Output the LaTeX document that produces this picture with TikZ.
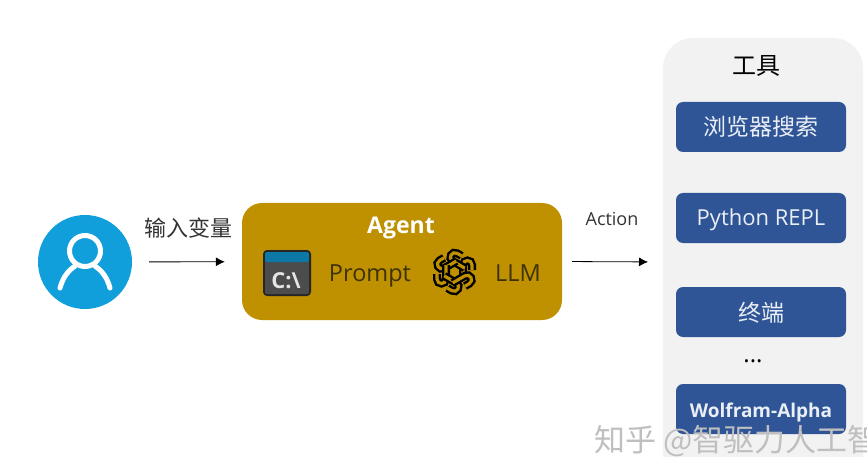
\documentclass[tikz,border=0pt]{standalone}
\usepackage{fontspec}
\usetikzlibrary{arrows.meta}
\setmainfont{Open Sans}
\newfontfamily\cjk{Noto Sans CJK SC}
\definecolor{agentgold}{HTML}{BF9000}
\definecolor{toolblue}{HTML}{2F5597}
\definecolor{userblue}{HTML}{119FDC}
\definecolor{panelgray}{HTML}{F2F2F2}
\definecolor{promptdark}{HTML}{3D3208}
\newcommand{\pxfont}[1]{\fontsize{#1}{#1}\selectfont}
\newcommand{\lowered}[2]{\raisebox{-#1pt}[0pt][0pt]{#2}}
\tikzset{
	toolbox/.style={fill=toolblue,rounded corners=7,minimum width=170,minimum height=50,inner sep=0,text=white!90!toolblue},
	flowarrow/.style={-{Latex[length=9,width=9]},line width=0.8},
	agentlabel/.style={text=promptdark,inner sep=0},
	plainlabel/.style={text=black!80,inner sep=0},
}
\begin{document}
\begin{tikzpicture}[x=1pt,y=-1pt]
	\useasboundingbox (0,0) rectangle (867,457);

	% tools panel
	\fill[panelgray] (663,457) [rounded corners=30] -- (663,38) -- (863,38) [sharp corners] -- (863,457) -- cycle;
	\coordinate (panelin) at (663,262);
	\node[inner sep=0] (toolstitle) at (756,66) {\pxfont{24}\cjk 工具};
	\node[toolbox] (browser) at (761,127) {\lowered{8.3}{\pxfont{23}\cjk 浏览器搜索}};
	\node[toolbox] (python) at (761,218) {\lowered{8}{\pxfont{22}Python REPL}};
	\node[toolbox] (shell) at (761,312) {\lowered{9.3}{\pxfont{23}\cjk 终端}};
	\node[inner sep=0] (dots) at (753,361) {\pxfont{24}...};
	\node[toolbox] (wolfram) at (761,409) {\lowered{8}{\pxfont{19}\bfseries Wolfram-Alpha}};

	% user
	\node[circle,fill=userblue,minimum size=94,inner sep=0] (user) at (85,262) {};
	\draw[white,line width=5] (85,251) circle[radius=15.5];
	\draw[white,line width=5,line cap=round] (60,288) .. controls (63,277) and (68,271) .. (75,266);
	\draw[white,line width=5,line cap=round] (110,288) .. controls (107,277) and (102,271) .. (95,266);

	% agent
	\node[fill=agentgold,rounded corners=20,minimum width=320,minimum height=117,inner sep=0] (agent) at (402,261.5) {};
	\node[inner sep=0,text=white] (agenttitle) at (401,228) {\pxfont{23}\bfseries Agent};

	% prompt icon
	\fill[black!85,rounded corners=4] (263,250) rectangle (311,296);
	\fill[black!70,rounded corners=2] (265,258) rectangle (309,294);
	\fill[userblue!75!black,rounded corners=2] (265,252) rectangle (309,262);
	\node[inner sep=0,text=white!90!black] (promptsign) at (286,281) {\pxfont{22}\bfseries C:\textbackslash};
	\node[agentlabel] (prompt) at (370,276) {\pxfont{23.5}Prompt};

	% llm icon
	\foreach \a in {0,60,...,300}
		\draw[black,line width=2.4,double=agentgold,double distance=3.2,shift={(454.5,272)},rotate=\a] (8.5,7) -- (8.5,-7) .. controls (8.5,-13) and (17.5,-13) .. (17.5,-7) -- (17.5,-2);
	\node[agentlabel] (llm) at (518,273) {\pxfont{23.5}LLM};

	% arrows
	\draw[flowarrow,shorten <=17,shorten >=17] (user) -- (agent);
	\node[plainlabel] (inputlabel) at (188,228) {\pxfont{22}\cjk 输入变量};
	\draw[flowarrow,shorten <=10,shorten >=15] (agent.east) -- (panelin);
	\node[plainlabel] (actionlabel) at (612,219) {\pxfont{18}Action};

	% watermark
	\node[anchor=west,inner sep=0,text=black!25] (watermark) at (594,441) {\pxfont{31}\cjk 知乎 @智驱力人工智};

\end{tikzpicture}
\end{document}
